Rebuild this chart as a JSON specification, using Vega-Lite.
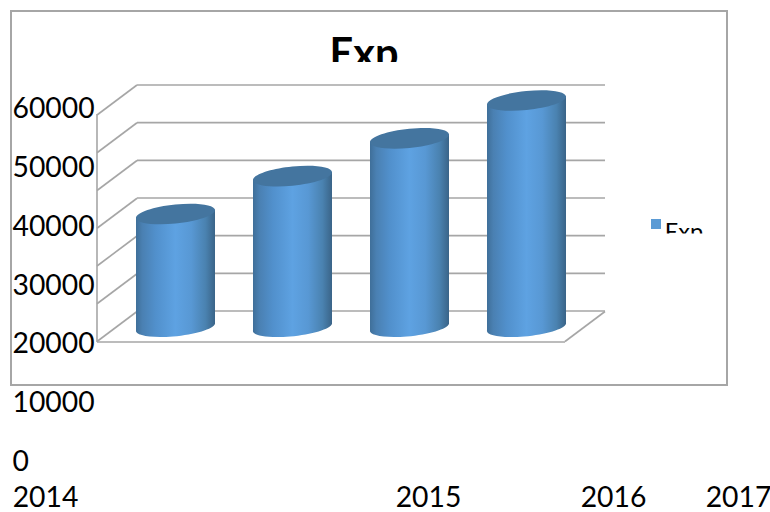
{"$schema":"https://vega.github.io/schema/vega-lite/v6.json","width":770,"height":512,"padding":0,"autosize":{"type":"none"},"background":"#ffffff","view":{"stroke":null},
"datasets":{"series":[{"year":2014,"value":30000},{"year":2015,"value":40000},{"year":2016,"value":50000},{"year":2017,"value":60000}],
"levels":[{"level":0},{"level":10000},{"level":20000},{"level":30000},{"level":40000},{"level":50000},{"level":60000}],
"name":[{"name":"Exp"}]},
"data":{"name":"series"},
"resolve":{"scale":{"x":"independent","y":"independent"}},
"layer":[
{"data":{"name":"name"},"mark":{"type":"rect","fill":null,"stroke":"#a6a6a6","strokeWidth":2},"encoding":{"x":{"datum":0,"scale":{"domain":[0,1],"range":[11,727]},"axis":null},"x2":{"datum":1},"y":{"datum":0,"scale":{"domain":[0,1],"range":[385,11]},"axis":null},"y2":{"datum":1}}},
{"data":{"name":"name"},"mark":{"type":"text","font":"Lato","fontWeight":"bold","fontSize":41.5,"align":"center","baseline":"alphabetic","fill":"#000000"},"encoding":{"text":{"field":"name"},"x":{"datum":0.493,"scale":{"domain":[0,1],"range":[11,727]},"axis":null},"y":{"datum":0.848,"scale":{"domain":[0,1],"range":[385,11]},"axis":null}}},
{"data":{"name":"name"},"mark":{"type":"text","font":"Lato","fontSize":23.5,"align":"left","baseline":"alphabetic","fill":"#000000"},"encoding":{"text":{"field":"name"},"x":{"datum":0.913,"scale":{"domain":[0,1],"range":[11,727]},"axis":null},"y":{"datum":0.388,"scale":{"domain":[0,1],"range":[385,11]},"axis":null}}},
{"data":{"name":"name"},"mark":{"type":"rect","fill":"#ffffff"},"encoding":{"x":{"datum":0.43,"scale":{"domain":[0,1],"range":[11,727]},"axis":null},"x2":{"datum":0.56},"y":{"datum":0.8636,"scale":{"domain":[0,1],"range":[385,11]},"axis":null},"y2":{"datum":0.805}}},
{"data":{"name":"name"},"mark":{"type":"rect","fill":"#ffffff"},"encoding":{"x":{"datum":0.9064,"scale":{"domain":[0,1],"range":[11,727]},"axis":null},"x2":{"datum":0.979},"y":{"datum":0.4051,"scale":{"domain":[0,1],"range":[385,11]},"axis":null},"y2":{"datum":0.361}}},
{"data":{"name":"name"},"mark":{"type":"point","shape":"square","filled":true,"fill":"#5b9bd5","opacity":1,"size":100},"encoding":{"x":{"datum":0.9008,"scale":{"domain":[0,1],"range":[11,727]},"axis":null},"y":{"datum":0.4305,"scale":{"domain":[0,1],"range":[385,11]},"axis":null}}},
{"data":{"name":"levels"},"mark":{"type":"rule","stroke":"#a6a6a6","strokeWidth":1.6},"encoding":{"x":{"datum":0,"scale":{"domain":[0,1],"range":[137,605]},"axis":null},"x2":{"datum":1},"y":{"field":"level","type":"quantitative","scale":{"domain":[0,60000],"range":[311,85]},"axis":null}}},
{"data":{"name":"levels"},"mark":{"type":"point","shape":"M-1,0.75L1,-0.75","filled":false,"fill":null,"stroke":"#a6a6a6","strokeWidth":1.6,"opacity":1,"size":1600},"encoding":{"x":{"datum":0,"scale":{"domain":[0,1],"range":[117,585]},"axis":null},"y":{"field":"level","type":"quantitative","scale":{"domain":[0,60000],"range":[326.5,100]},"axis":null}}},
{"data":{"name":"name"},"mark":{"type":"point","shape":"M-1,0.75L1,-0.75","filled":false,"fill":null,"stroke":"#a6a6a6","strokeWidth":1.6,"opacity":1,"size":1600},"encoding":{"x":{"datum":1,"scale":{"domain":[0,1],"range":[117,585]},"axis":null},"y":{"datum":0,"scale":{"domain":[0,60000],"range":[326.5,100]},"axis":null}}},
{"data":{"name":"name"},"mark":{"type":"rule","stroke":"#a6a6a6","strokeWidth":1.6},"encoding":{"x":{"datum":0,"scale":{"domain":[0,1],"range":[97,565]},"axis":null},"x2":{"datum":1},"y":{"datum":0,"scale":{"domain":[0,60000],"range":[342,114]},"axis":null}}},
{"data":{"name":"name"},"mark":{"type":"rule","stroke":"#a6a6a6","strokeWidth":1.6},"encoding":{"x":{"datum":0,"scale":{"domain":[0,1],"range":[97,565]},"axis":null},"y":{"datum":0,"scale":{"domain":[0,60000],"range":[342,114]},"axis":null},"y2":{"datum":60000}}},
{"mark":{"type":"bar","orient":"vertical","size":79,"yOffset":6,"y2Offset":-6,"fill":{"gradient":"linear","x1":0,"y1":0,"x2":1,"y2":0,"stops":[{"offset":0,"color":"#3f6f99"},{"offset":0.08,"color":"#4a80b2"},{"offset":0.25,"color":"#5190cc"},{"offset":0.5,"color":"#5ea2e2"},{"offset":0.7,"color":"#5898d4"},{"offset":0.88,"color":"#4a82b0"},{"offset":1,"color":"#3a6488"}]}},"encoding":{"x":{"field":"year","type":"quantitative","scale":{"domain":[2014,2017],"range":[175.5,526.5],"padding":0},"axis":null},"y":{"field":"value","type":"quantitative","scale":{"domain":[0,60000],"range":[327,100]},"axis":null},"y2":{"datum":0}}},
{"mark":{"type":"point","shape":"M-1,-0.3L1,-0.3L1,-0.085A1,0.23,-6,0,1,-1,0.085Z","filled":true,"opacity":1,"size":6241,"fill":{"gradient":"linear","x1":0,"y1":0,"x2":1,"y2":0,"stops":[{"offset":0,"color":"#3f6f99"},{"offset":0.08,"color":"#4a80b2"},{"offset":0.25,"color":"#5190cc"},{"offset":0.5,"color":"#5ea2e2"},{"offset":0.7,"color":"#5898d4"},{"offset":0.88,"color":"#4a82b0"},{"offset":1,"color":"#3a6488"}]}},"encoding":{"x":{"field":"year","type":"quantitative","scale":{"domain":[2014,2017],"range":[175.5,526.5]},"axis":null},"y":{"datum":0,"scale":{"domain":[0,60000],"range":[327,100]},"axis":null}}},
{"mark":{"type":"point","shape":"M-1,0.1L1,-0.1L1,0.3L-1,0.3Z","filled":true,"opacity":1,"size":6241,"fill":{"gradient":"linear","x1":0,"y1":0,"x2":1,"y2":0,"stops":[{"offset":0,"color":"#3f6f99"},{"offset":0.08,"color":"#4a80b2"},{"offset":0.25,"color":"#5190cc"},{"offset":0.5,"color":"#5ea2e2"},{"offset":0.7,"color":"#5898d4"},{"offset":0.88,"color":"#4a82b0"},{"offset":1,"color":"#3a6488"}]}},"encoding":{"x":{"field":"year","type":"quantitative","scale":{"domain":[2014,2017],"range":[175.5,526.5]},"axis":null},"y":{"field":"value","type":"quantitative","scale":{"domain":[0,60000],"range":[327,100]},"axis":null}}},
{"mark":{"type":"point","shape":"M-1,0.1A1,0.24,-6,0,1,1,-0.1A1,0.24,-6,0,1,-1,0.1Z","filled":true,"opacity":1,"size":6241,"fill":"#44759f"},"encoding":{"x":{"field":"year","type":"quantitative","scale":{"domain":[2014,2017],"range":[175.5,526.5]},"axis":null},"y":{"field":"value","type":"quantitative","scale":{"domain":[0,60000],"range":[327.5,100.5]},"axis":null}}},
{"mark":{"type":"point","opacity":0},"encoding":{"x":{"field":"year","type":"quantitative","title":null,"scale":{"domain":[2014,2015,2016,2017],"range":[45,428,613,738]},"axis":{"orient":"bottom","values":[2014,2015,2016,2017],"format":"d","domain":false,"ticks":false,"grid":false,"title":null,"labelFont":"Lato","labelFontSize":28.3,"labelColor":"#000000","labelBaseline":"middle","labelPadding":-13.5,"labelOverlap":false,"labelFlush":false,"labelBound":false}},"y":{"field":"value","type":"quantitative","title":null,"scale":{"domain":[0,60000],"range":[462.5,109.5]},"axis":{"orient":"left","values":[0,10000,20000,30000,40000,50000,60000],"format":"d","domain":false,"ticks":false,"grid":false,"title":null,"labelFont":"Lato","labelFontSize":28.3,"labelColor":"#000000","labelAlign":"left","labelBaseline":"middle","labelPadding":-12,"labelOverlap":false,"labelFlush":false,"labelBound":false}}}}
]}
